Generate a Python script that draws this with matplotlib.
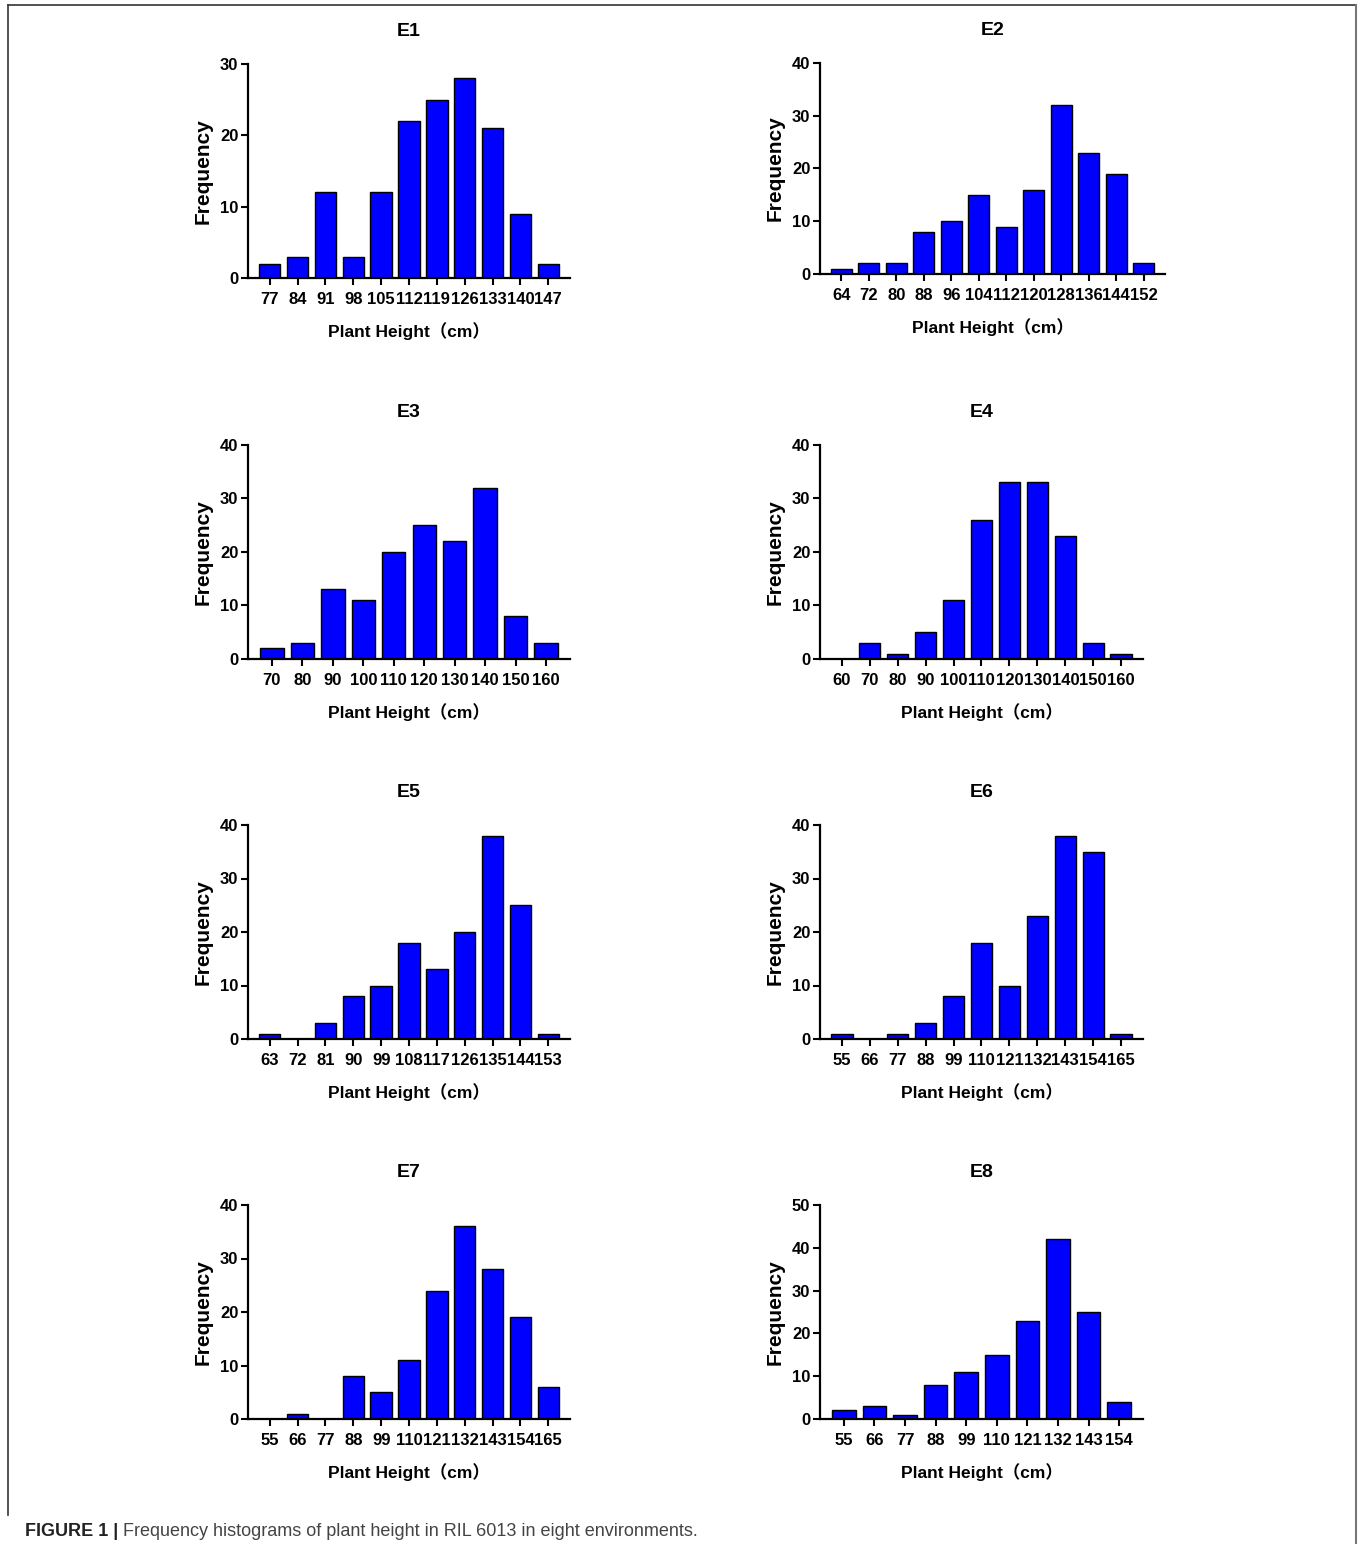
import matplotlib.pyplot as plt
from matplotlib.lines import Line2D

W, H = 1360, 1544

# plant height bins and frequencies per environment
e1_bins = [77, 84, 91, 98, 105, 112, 119, 126, 133, 140, 147]
e1_freq = [2, 3, 12, 3, 12, 22, 25, 28, 21, 9, 2]
e2_bins = [64, 72, 80, 88, 96, 104, 112, 120, 128, 136, 144, 152]
e2_freq = [1, 2, 2, 8, 10, 15, 9, 16, 32, 23, 19, 2]
e3_bins = [70, 80, 90, 100, 110, 120, 130, 140, 150, 160]
e3_freq = [2, 3, 13, 11, 20, 25, 22, 32, 8, 3]
e4_bins = [60, 70, 80, 90, 100, 110, 120, 130, 140, 150, 160]
e4_freq = [0, 3, 1, 5, 11, 26, 33, 33, 23, 3, 1]
e5_bins = [63, 72, 81, 90, 99, 108, 117, 126, 135, 144, 153]
e5_freq = [1, 0, 3, 8, 10, 18, 13, 20, 38, 25, 1]
e6_bins = [55, 66, 77, 88, 99, 110, 121, 132, 143, 154, 165]
e6_freq = [1, 0, 1, 3, 8, 18, 10, 23, 38, 35, 1]
e7_bins = [55, 66, 77, 88, 99, 110, 121, 132, 143, 154, 165]
e7_freq = [0, 1, 0, 8, 5, 11, 24, 36, 28, 19, 6]
e8_bins = [55, 66, 77, 88, 99, 110, 121, 132, 143, 154]
e8_freq = [2, 3, 1, 8, 11, 15, 23, 42, 25, 4]

titles = ["E1", "E2", "E3", "E4", "E5", "E6", "E7", "E8"]
bins = [e1_bins, e2_bins, e3_bins, e4_bins, e5_bins, e6_bins, e7_bins, e8_bins]
freqs = [e1_freq, e2_freq, e3_freq, e4_freq, e5_freq, e6_freq, e7_freq, e8_freq]
ymax = [30, 40, 40, 40, 40, 40, 40, 50]

# axes boxes in pixels: left, top, right, bottom
boxes = [
    (248, 64, 570, 278), (820, 63, 1165, 274),
    (248, 445, 570, 659), (820, 445, 1143, 659),
    (248, 825, 570, 1039), (820, 825, 1143, 1039),
    (248, 1205, 570, 1419), (820, 1205, 1143, 1419),
]

plt.rcParams['font.family'] = ['Liberation Sans', 'Noto Sans CJK SC', 'DejaVu Sans']
plt.rcParams['font.weight'] = 'bold'

fig = plt.figure(figsize=(W / 100, H / 100), dpi=100)

for i in range(8):
    l, t, r, b = boxes[i]
    ax = fig.add_axes([l / W, 1 - b / H, (r - l) / W, (b - t) / H])
    n = len(bins[i])
    x = list(range(n))
    ax.bar(x, freqs[i], width=0.77, color="#0000ff", edgecolor="black", linewidth=1.0)
    ax.set_xlim(-0.78, n - 1 + 0.78)
    ax.set_ylim(0, ymax[i])
    ax.set_yticks(range(0, ymax[i] + 1, 10))
    ax.set_xticks(x)
    ax.set_xticklabels([str(v) for v in bins[i]])
    for s in ["top", "right"]:
        ax.spines[s].set_visible(False)
    for s in ["left", "bottom"]:
        ax.spines[s].set_linewidth(1.6)
    ax.tick_params(axis="both", length=5, width=1.5, labelsize=12)
    ax.tick_params(axis="x", pad=5)
    ax.tick_params(axis="y", pad=2)
    for lab in ax.get_xticklabels() + ax.get_yticklabels():
        lab.set_fontweight("bold")
    ax.set_title(titles[i], fontsize=14, fontweight="bold", pad=20)
    ax.set_ylabel("Frequency", fontsize=15, fontweight="bold", labelpad=5)
    ax.set_xlabel("Plant Height（cm）", fontsize=12.5, fontweight="bold", labelpad=11)

# border
lc = "#333333"
fig.add_artist(Line2D([8 / W, 1356 / W], [1 - 5 / H, 1 - 5 / H], color=lc, lw=1.2))
fig.add_artist(Line2D([8 / W, 8 / W], [1 - 5 / H, 1 - 1515 / H], color=lc, lw=1.2))
fig.add_artist(Line2D([1356 / W, 1356 / W], [1 - 5 / H, 0], color="#777777", lw=1.5))

# caption
t1 = fig.text(25 / W, 1 - 1531 / H, "FIGURE 1 | ", fontsize=13, fontweight="bold",
              color="#222222", va="center", ha="left")
fig.add_artist(plt.Annotation("Frequency histograms of plant height in RIL 6013 in eight environments.",
                              xy=(1, 0.5), xycoords=t1, va="center", ha="left",
                              fontsize=13, fontweight="normal", color="#444444"))

fig.savefig("out.png", dpi=100)
